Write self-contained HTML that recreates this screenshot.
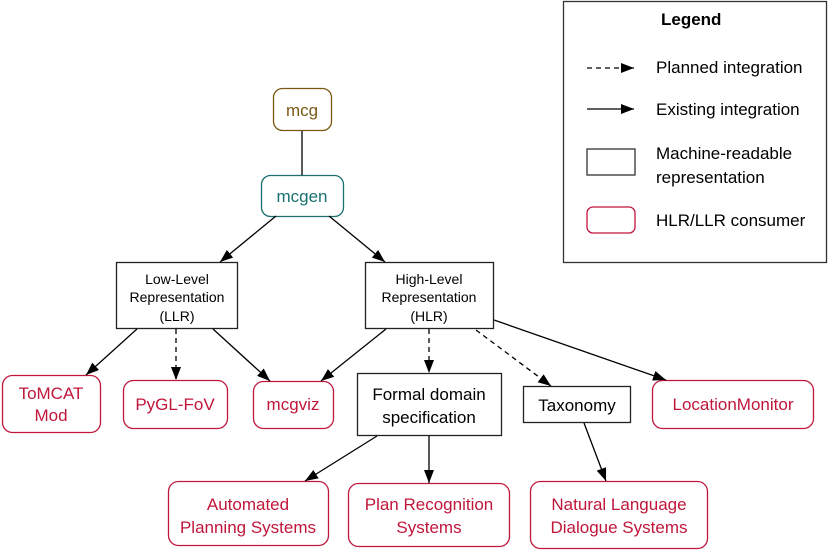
<!DOCTYPE html>
<html><head><meta charset="utf-8"><style>
html,body{margin:0;padding:0;background:#fff;width:830px;height:550px;overflow:hidden}
svg{display:block}
text{font-family:"Liberation Sans",sans-serif}
</style></head><body>
<svg width="830" height="550" viewBox="0 0 830 550" xmlns="http://www.w3.org/2000/svg">
<defs>
<marker id="a" markerWidth="13" markerHeight="10" refX="13" refY="5" orient="auto" markerUnits="userSpaceOnUse">
<path d="M0,0 L13,5 L0,10 z" fill="#000"/></marker>
</defs>
<g fill="none" stroke-width="1.3">
<rect x="563.5" y="1.5" width="263" height="261" stroke="#333"/>
<line x1="587" y1="68" x2="634" y2="68" stroke="#000" stroke-dasharray="5,4" marker-end="url(#a)"/>
<line x1="587" y1="109" x2="634" y2="109" stroke="#000" marker-end="url(#a)"/>
<rect x="587" y="149" width="48" height="26" stroke="#333"/>
<rect x="587" y="207" width="48" height="26" rx="6" stroke="#c0163a"/>
<rect x="273.5" y="88.5" width="58" height="42" rx="9" stroke="#7a5a12"/>
<rect x="261.5" y="175.5" width="82" height="41" rx="9" stroke="#1a6f6f"/>
<rect x="116.5" y="262.5" width="121" height="66" stroke="#222"/>
<rect x="365.5" y="262.5" width="128" height="66" stroke="#222"/>
<rect x="357.5" y="373.5" width="144" height="62" stroke="#222"/>
<rect x="523.5" y="386.5" width="107" height="36" stroke="#222"/>
<g stroke="#c0163a">
<rect x="2.5" y="375.5" width="98" height="57" rx="10"/>
<rect x="123.5" y="380.5" width="104" height="48" rx="10"/>
<rect x="253.5" y="381.5" width="80" height="47" rx="10"/>
<rect x="652.5" y="380.5" width="161" height="48" rx="10"/>
<rect x="168.5" y="481.5" width="160" height="64" rx="10"/>
<rect x="348.5" y="483.5" width="161" height="63" rx="10"/>
<rect x="530.5" y="481.5" width="177" height="67" rx="10"/>
</g>
<g stroke="#000">
<line x1="302" y1="131" x2="302" y2="175"/>
<line x1="276" y1="216" x2="220" y2="262" marker-end="url(#a)"/>
<line x1="329" y1="216" x2="385" y2="262" marker-end="url(#a)"/>
<line x1="137" y1="329" x2="86" y2="375" marker-end="url(#a)"/>
<line x1="176" y1="329" x2="176" y2="380" stroke-dasharray="5,4" marker-end="url(#a)"/>
<line x1="213" y1="329" x2="270" y2="381" marker-end="url(#a)"/>
<line x1="386" y1="329" x2="321" y2="381" marker-end="url(#a)"/>
<line x1="429" y1="329" x2="429" y2="373" stroke-dasharray="5,4" marker-end="url(#a)"/>
<line x1="476" y1="330" x2="551" y2="386" stroke-dasharray="5,4" marker-end="url(#a)"/>
<line x1="494" y1="320" x2="666" y2="380" marker-end="url(#a)"/>
<line x1="377" y1="436" x2="305" y2="481" marker-end="url(#a)"/>
<line x1="429" y1="436" x2="429" y2="483" marker-end="url(#a)"/>
<line x1="584" y1="423" x2="606" y2="481" marker-end="url(#a)"/>
</g>
</g>
<g font-size="17" fill="#000" text-anchor="start">
<text x="661" y="25" font-weight="bold" font-size="17">Legend</text>
<text x="656" y="73">Planned integration</text>
<text x="656" y="115">Existing integration</text>
<text x="656" y="159">Machine-readable</text>
<text x="656" y="183">representation</text>
<text x="656" y="226">HLR/LLR consumer</text>
</g>
<g text-anchor="middle" font-size="17">
<text x="302" y="116" fill="#7a5a12">mcg</text>
<text x="302" y="202" fill="#1a6f6f">mcgen</text>
<g font-size="14" fill="#000">
<text x="177" y="284">Low-Level</text>
<text x="177" y="302">Representation</text>
<text x="177" y="321">(LLR)</text>
<text x="429" y="284">High-Level</text>
<text x="429" y="302">Representation</text>
<text x="429" y="321">(HLR)</text>
</g>
<text x="429" y="400" fill="#000">Formal domain</text>
<text x="429" y="423" fill="#000">specification</text>
<text x="577" y="411" fill="#000">Taxonomy</text>
<g fill="#c0163a">
<text x="51" y="399">ToMCAT</text>
<text x="51" y="421">Mod</text>
<text x="175" y="410">PyGL-FoV</text>
<text x="293" y="410">mcgviz</text>
<text x="733" y="410">LocationMonitor</text>
<text x="248" y="510">Automated</text>
<text x="248" y="533">Planning Systems</text>
<text x="429" y="510">Plan Recognition</text>
<text x="429" y="533">Systems</text>
<text x="619" y="510">Natural Language</text>
<text x="619" y="533">Dialogue Systems</text>
</g>
</g>
</svg>
</body></html>
